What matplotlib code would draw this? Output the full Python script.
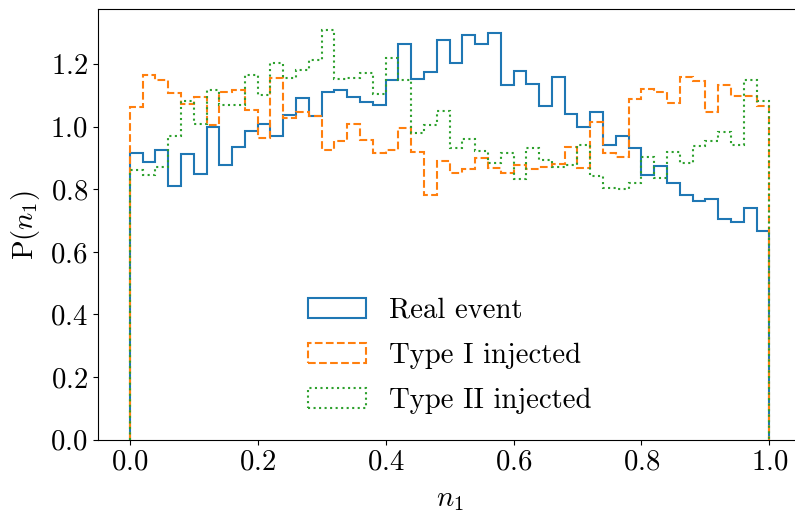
import numpy as np
import matplotlib
matplotlib.use('Agg')
import matplotlib.pyplot as plt

plt.rcParams['font.family'] = 'serif'
plt.rcParams['font.serif'] = ['cmr10']
plt.rcParams['mathtext.fontset'] = 'cm'
plt.rcParams['axes.formatter.use_mathtext'] = True
plt.rcParams['font.size'] = 20.7

# 50 bins on [0, 1]
edges = np.linspace(0, 1, 51)

real_event = [0.917, 0.886, 0.926, 0.809, 0.911, 0.849, 1.000, 0.876, 0.936, 0.987,
              1.009, 0.969, 1.038, 1.090, 1.032, 1.111, 1.115, 1.095, 1.078, 1.068,
              1.147, 1.263, 1.153, 1.175, 1.275, 1.202, 1.292, 1.264, 1.298, 1.133,
              1.176, 1.135, 1.066, 1.158, 1.041, 0.997, 1.045, 0.941, 0.969, 0.933,
              0.846, 0.873, 0.821, 0.783, 0.762, 0.768, 0.706, 0.695, 0.740, 0.667]

type1 = [1.061, 1.166, 1.148, 1.107, 1.071, 1.095, 1.005, 1.110, 1.117, 1.052,
         0.964, 1.156, 1.026, 1.047, 1.034, 0.926, 0.955, 1.009, 0.958, 0.914,
         0.926, 0.996, 0.919, 0.781, 0.889, 0.853, 0.865, 0.898, 0.867, 0.852,
         0.877, 0.866, 0.872, 0.881, 0.936, 0.869, 1.013, 0.917, 0.904, 1.087,
         1.121, 1.110, 1.074, 1.159, 1.146, 1.045, 1.134, 1.096, 1.096, 1.066]

type2 = [0.862, 0.846, 0.872, 0.970, 1.082, 1.009, 1.117, 1.068, 1.068, 1.166,
         1.102, 1.204, 1.155, 1.181, 1.213, 1.309, 1.151, 1.155, 1.172, 1.104,
         1.219, 1.149, 0.979, 1.004, 1.051, 0.931, 0.960, 0.923, 0.885, 0.917,
         0.834, 0.931, 0.894, 0.872, 0.876, 0.941, 0.841, 0.803, 0.800, 0.821,
         0.902, 0.835, 0.918, 0.883, 0.938, 0.953, 0.984, 0.941, 1.147, 1.081]

centers = edges[:-1]

fig, ax = plt.subplots(figsize=(7.95, 5.12), dpi=100)
ax.hist(centers, bins=edges, weights=real_event, histtype='step', lw=1.5,
        color='tab:blue', label='Real event')
ax.hist(centers, bins=edges, weights=type1, histtype='step', lw=1.5, ls='--',
        color='tab:orange', label='Type I injected')
ax.hist(centers, bins=edges, weights=type2, histtype='step', lw=1.5, ls=':',
        color='tab:green', label='Type II injected')

ax.set_xlabel(r'$n_1$', labelpad=7.5)
ax.set_ylabel(r'P$(n_1)$', labelpad=6)
ax.set_xticks([0.0, 0.2, 0.4, 0.6, 0.8, 1.0])
ax.legend(loc='lower center', frameon=False, labelspacing=0.65)

# the right spine falls just outside the canvas in the original
plt.subplots_adjust(left=0.123, right=1.008, top=0.982, bottom=0.141)
plt.savefig('out.png')
